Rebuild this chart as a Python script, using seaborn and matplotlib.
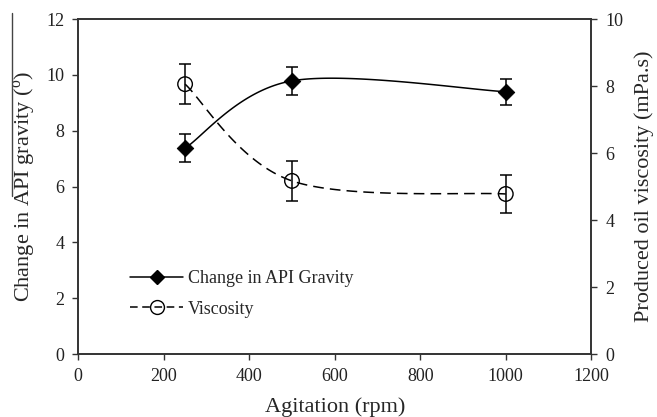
import numpy as np
import pandas as pd
import matplotlib
matplotlib.use("Agg")
import matplotlib.pyplot as plt
from matplotlib.lines import Line2D
import seaborn as sns

# data
agitation = [250, 500, 1000]
api_change = [7.38, 9.79, 9.40]
api_err = [0.50, 0.50, 0.47]
viscosity = [8.06, 5.17, 4.78]
visc_err = [0.60, 0.60, 0.57]


def smooth(xs, ys, sx, sy, n=60):
    # Excel-like smoothed line (Catmull-Rom as cubic Bezier), computed in scaled coords
    p = np.column_stack([np.asarray(xs, float) / sx, np.asarray(ys, float) / sy])
    pts = np.vstack([p[0], p, p[-1]])
    out = []
    t = np.linspace(0, 1, n)[:, None]
    for i in range(1, len(pts) - 2):
        p0, p1, p2, p3 = pts[i - 1], pts[i], pts[i + 1], pts[i + 2]
        c1 = p1 + (p2 - p0) / 6
        c2 = p2 - (p3 - p1) / 6
        seg = ((1 - t) ** 3) * p1 + 3 * ((1 - t) ** 2) * t * c1 + 3 * (1 - t) * t ** 2 * c2 + t ** 3 * p2
        out.append(seg if i == 1 else seg[1:])
    out = np.vstack(out)
    return pd.DataFrame({"x": out[:, 0] * sx, "y": out[:, 1] * sy})


sns.set_style("ticks")
plt.rcParams["font.family"] = ["Liberation Serif", "DejaVu Serif"]
plt.rcParams["mathtext.fontset"] = "custom"
plt.rcParams["mathtext.rm"] = "Liberation Serif"
plt.rcParams["xtick.direction"] = "out"
plt.rcParams["ytick.direction"] = "out"

fig = plt.figure(figsize=(6.57, 4.17), dpi=100)
ax = fig.add_axes([0.119, 0.151, 0.781, 0.803])
ax2 = ax.twinx()

api_curve = smooth(agitation, api_change, 1200, 12)
visc_curve = smooth(agitation, viscosity, 1200, 10)

sns.lineplot(data=api_curve, x="x", y="y", ax=ax, sort=False, estimator=None,
             color="black", linewidth=1.1)
ax.errorbar(agitation, api_change, yerr=api_err, fmt="none", ecolor="black",
            elinewidth=1.1, capsize=4, capthick=1.1)
sns.scatterplot(x=agitation, y=api_change, ax=ax, marker="D", s=70,
                color="black", edgecolor="black", zorder=5)

sns.lineplot(data=visc_curve, x="x", y="y", ax=ax2, sort=False, estimator=None,
             color="black", linewidth=1.1, linestyle=(0, (7, 4)))
ax2.errorbar(agitation, viscosity, yerr=visc_err, fmt="none", ecolor="black",
             elinewidth=1.1, capsize=4, capthick=1.1)
ax2.scatter(agitation, viscosity, marker="o", s=110, facecolors="none",
            edgecolors="black", linewidths=1.0, zorder=5)

ax.set_xlim(0, 1200)
ax.set_ylim(0, 12)
ax2.set_ylim(0, 10)
ax.set_xticks(range(0, 1201, 200))
ax.set_yticks(range(0, 13, 2))
ax2.set_yticks(range(0, 11, 2))

for a in (ax, ax2):
    a.tick_params(labelsize=13, length=4, width=1.0, pad=6,
                  color="#333333", labelcolor="#222222")
    for s in a.spines.values():
        s.set_linewidth(1.2)
        s.set_color("#333333")

ax.set_xlabel("Agitation (rpm)", fontsize=16, labelpad=9)
ax.set_ylabel("Change in API gravity ($^{\\rm o}$)", fontsize=16, labelpad=6)
ax2.set_ylabel("Produced oil viscosity (mPa.s)", fontsize=16, labelpad=8)

# thin stray rule beside the left label, as in the source image
fig.add_artist(Line2D([0.018, 0.018], [0.53, 0.97], transform=fig.transFigure,
                      color="#444444", linewidth=1.0))

handles = [
    Line2D([], [], color="black", linewidth=1.1, marker="D", markersize=7),
    Line2D([], [], color="black", linewidth=1.1, linestyle=(0, (5, 3)), marker="o",
           markersize=10, markerfacecolor="none"),
]
ax.legend(handles, ["Change in API Gravity", "Viscosity"], loc="lower left",
          bbox_to_anchor=(0.07, 0.06), frameon=False, fontsize=13,
          handlelength=2.9, handletextpad=0.3, labelspacing=0.75)

fig.savefig("out.png", dpi=100)
